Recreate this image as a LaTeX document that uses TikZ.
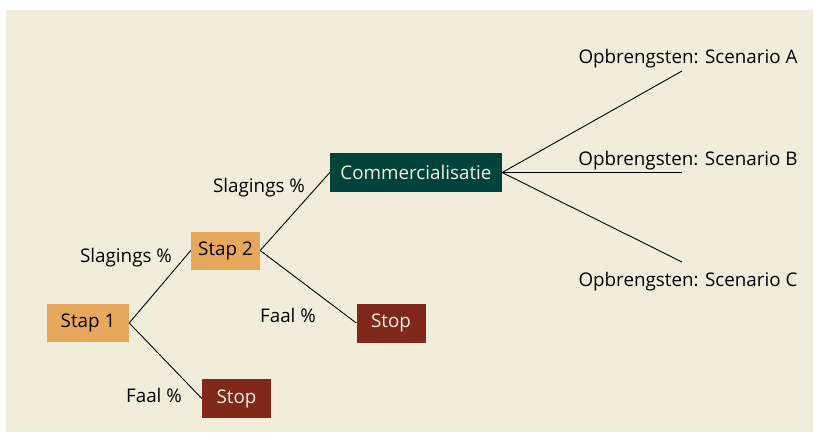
\documentclass[tikz,border=0pt]{standalone}
\usepackage{fontspec}
\setmainfont{Open Sans}
\definecolor{bgbeige}{RGB}{242,236,219}
\definecolor{stapkleur}{RGB}{231,168,92}
\definecolor{stopkleur}{RGB}{128,41,26}
\definecolor{commkleur}{RGB}{0,67,58}
\definecolor{lichttekst}{RGB}{245,240,225}
\tikzset{
  stapbox/.style={fill=stapkleur,inner sep=0pt,minimum height=38pt,font=\fontsize{18.8}{22}\selectfont},
  stopbox/.style={fill=stopkleur,text=lichttekst,inner sep=0pt,minimum width=69pt,minimum height=39pt,font=\fontsize{18.8}{22}\selectfont},
  kans/.style={font=\fontsize{18.8}{22}\selectfont},
  tak/.style={line width=0.9pt}
}
\begin{document}
\begin{tikzpicture}[x=1pt,y=-1pt]
  \useasboundingbox (0,0) rectangle (814,432);
  \fill[bgbeige] (6,10) rectangle (813,432);
  % stappen
  \node[stapbox,minimum width=82pt] (stap1) at (88,323) {Stap 1};
  \node[stapbox,minimum width=69pt] (stap2) at (225.5,250.5) {Stap 2};
  \node[stopbox] (stop1) at (236.5,398.5) {Stop};
  \node[stopbox] (stop2) at (391,323) {Stop};
  \node[fill=commkleur,text=lichttekst,inner sep=0pt,minimum width=172pt,minimum height=39pt,
        font=\fontsize{18.8}{22}\selectfont] (comm) at (416,172.5) {Commercialisatie};
  % uitkomsten
  \coordinate (eindA) at (682,71);
  \coordinate (eindB) at (682,172.5);
  \coordinate (eindC) at (682,262);
  \node[kans] (scenA) at (688,59) {Opbrengsten: Scenario A};
  \node[kans] (scenB) at (688,161) {Opbrengsten: Scenario B};
  \node[kans] (scenC) at (688,282) {Opbrengsten: Scenario C};
  % takken
  \draw[tak] (stap1.east) -- (stap2.west);
  \draw[tak] (stap1.east) -- (stop1.west);
  \draw[tak] (stap2.east) -- (comm.west);
  \draw[tak] (stap2.east) -- (stop2.west);
  \draw[tak] (comm.east) -- (eindA);
  \draw[tak] (comm.east) -- (eindB);
  \draw[tak] (comm.east) -- (eindC);
  % kansen
  \node[kans] (slaag1) at (126,258) {Slagings \%};
  \node[kans] (slaag2) at (259,188) {Slagings \%};
  \node[kans] (faal1) at (154,395) {Faal \%};
  \node[kans] (faal2) at (288,315) {Faal \%};
\end{tikzpicture}
\end{document}
